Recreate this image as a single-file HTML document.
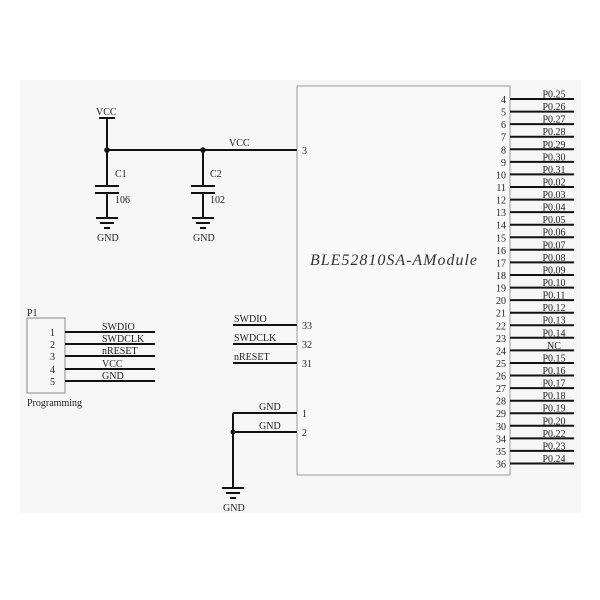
<!DOCTYPE html>
<html><head><meta charset="utf-8"><style>html,body{margin:0;padding:0;background:#fff}svg{display:block}</style></head>
<body>
<svg width="600" height="600" viewBox="0 0 600 600" xmlns="http://www.w3.org/2000/svg" font-family="Liberation Serif, serif" fill="#222">
<rect x="20" y="80" width="561" height="433" fill="#f6f6f6"/>
<rect x="297" y="86" width="213" height="389" fill="#f9f9f9" stroke="#999" stroke-width="1"/>
<text x="310" y="265" font-size="16" font-style="italic" textLength="167" fill="#333">BLE52810SA-AModule</text>
<g stroke="#111" stroke-width="2">
<line x1="510" y1="99" x2="574" y2="99"/><line x1="510" y1="111.6" x2="574" y2="111.6"/><line x1="510" y1="124.1" x2="574" y2="124.1"/><line x1="510" y1="136.7" x2="574" y2="136.7"/><line x1="510" y1="149.3" x2="574" y2="149.3"/><line x1="510" y1="161.9" x2="574" y2="161.9"/><line x1="510" y1="174.4" x2="574" y2="174.4"/><line x1="510" y1="187" x2="574" y2="187"/><line x1="510" y1="199.6" x2="574" y2="199.6"/><line x1="510" y1="212.1" x2="574" y2="212.1"/><line x1="510" y1="224.7" x2="574" y2="224.7"/><line x1="510" y1="237.3" x2="574" y2="237.3"/><line x1="510" y1="249.8" x2="574" y2="249.8"/><line x1="510" y1="262.4" x2="574" y2="262.4"/><line x1="510" y1="275" x2="574" y2="275"/><line x1="510" y1="287.6" x2="574" y2="287.6"/><line x1="510" y1="300.1" x2="574" y2="300.1"/><line x1="510" y1="312.7" x2="574" y2="312.7"/><line x1="510" y1="325.3" x2="574" y2="325.3"/><line x1="510" y1="337.8" x2="574" y2="337.8"/><line x1="510" y1="350.4" x2="574" y2="350.4"/><line x1="510" y1="363" x2="574" y2="363"/><line x1="510" y1="375.5" x2="574" y2="375.5"/><line x1="510" y1="388.1" x2="574" y2="388.1"/><line x1="510" y1="400.7" x2="574" y2="400.7"/><line x1="510" y1="413.2" x2="574" y2="413.2"/><line x1="510" y1="425.8" x2="574" y2="425.8"/><line x1="510" y1="438.4" x2="574" y2="438.4"/><line x1="510" y1="450.9" x2="574" y2="450.9"/><line x1="510" y1="463.5" x2="574" y2="463.5"/>
</g>
<g font-size="10" text-anchor="end">
<text x="506" y="103">4</text><text x="506" y="115.6">5</text><text x="506" y="128.1">6</text><text x="506" y="140.7">7</text><text x="506" y="153.3">8</text><text x="506" y="165.9">9</text><text x="506" y="178.4">10</text><text x="506" y="191">11</text><text x="506" y="203.6">12</text><text x="506" y="216.1">13</text><text x="506" y="228.7">14</text><text x="506" y="241.3">15</text><text x="506" y="253.8">16</text><text x="506" y="266.4">17</text><text x="506" y="279">18</text><text x="506" y="291.6">19</text><text x="506" y="304.1">20</text><text x="506" y="316.7">21</text><text x="506" y="329.3">22</text><text x="506" y="341.8">23</text><text x="506" y="354.4">24</text><text x="506" y="367">25</text><text x="506" y="379.5">26</text><text x="506" y="392.1">27</text><text x="506" y="404.7">28</text><text x="506" y="417.2">29</text><text x="506" y="429.8">30</text><text x="506" y="442.4">34</text><text x="506" y="454.9">35</text><text x="506" y="467.5">36</text>
</g>
<g font-size="10" text-anchor="middle">
<text x="554" y="97.5">P0.25</text><text x="554" y="110">P0.26</text><text x="554" y="122.6">P0.27</text><text x="554" y="135.2">P0.28</text><text x="554" y="147.8">P0.29</text><text x="554" y="160.3">P0.30</text><text x="554" y="172.9">P0.31</text><text x="554" y="185.5">P0.02</text><text x="554" y="198">P0.03</text><text x="554" y="210.6">P0.04</text><text x="554" y="223.2">P0.05</text><text x="554" y="235.7">P0.06</text><text x="554" y="248.3">P0.07</text><text x="554" y="260.9">P0.08</text><text x="554" y="273.5">P0.09</text><text x="554" y="286">P0.10</text><text x="554" y="298.6">P0.11</text><text x="554" y="311.2">P0.12</text><text x="554" y="323.7">P0.13</text><text x="554" y="336.3">P0.14</text><text x="554" y="348.9">NC</text><text x="554" y="361.4">P0.15</text><text x="554" y="374">P0.16</text><text x="554" y="386.6">P0.17</text><text x="554" y="399.1">P0.18</text><text x="554" y="411.7">P0.19</text><text x="554" y="424.3">P0.20</text><text x="554" y="436.8">P0.22</text><text x="554" y="449.4">P0.23</text><text x="554" y="462">P0.24</text>
</g>
<!-- power -->
<g stroke="#111" stroke-width="2" fill="none">
<line x1="99" y1="118" x2="115" y2="118"/>
<line x1="107" y1="118" x2="107" y2="185"/>
<line x1="107" y1="150" x2="297" y2="150"/>
<line x1="203" y1="150" x2="203" y2="185"/>
<line x1="95" y1="186" x2="119" y2="186"/><line x1="95" y1="193" x2="119" y2="193"/>
<line x1="191" y1="186" x2="215" y2="186"/><line x1="191" y1="193" x2="215" y2="193"/>
<line x1="107" y1="193" x2="107" y2="218"/><line x1="203" y1="193" x2="203" y2="218"/>
<line x1="96" y1="218" x2="118" y2="218"/><line x1="100" y1="223" x2="114" y2="223"/><line x1="104" y1="228" x2="110" y2="228"/>
<line x1="192" y1="218" x2="214" y2="218"/><line x1="196" y1="223" x2="210" y2="223"/><line x1="200" y1="228" x2="206" y2="228"/>
</g>
<circle cx="107" cy="150" r="2.8" fill="#111"/><circle cx="203" cy="150" r="2.8" fill="#111"/>
<g font-size="10">
<text x="96" y="115">VCC</text><text x="229" y="146">VCC</text><text x="302" y="154">3</text>
<text x="115" y="177">C1</text><text x="210" y="177">C2</text>
<text x="115" y="203">106</text><text x="210" y="203">102</text>
<text x="97" y="241">GND</text><text x="193" y="241">GND</text>
</g>
<!-- P1 -->
<rect x="27" y="318" width="38" height="75" fill="none" stroke="#888" stroke-width="1"/>
<g stroke="#111" stroke-width="2">
<line x1="65" y1="332" x2="155" y2="332"/><line x1="65" y1="344" x2="155" y2="344"/><line x1="65" y1="356" x2="155" y2="356"/><line x1="65" y1="369" x2="155" y2="369"/><line x1="65" y1="381" x2="155" y2="381"/>
</g>
<g font-size="10">
<text x="27" y="316">P1</text>
<text x="50" y="336">1</text><text x="50" y="348">2</text><text x="50" y="360">3</text><text x="50" y="373">4</text><text x="50" y="385">5</text>
<text x="102" y="330">SWDIO</text><text x="102" y="342">SWDCLK</text><text x="102" y="354">nRESET</text><text x="102" y="367">VCC</text><text x="102" y="379">GND</text>
<text x="27" y="406">Programming</text>
</g>
<!-- swd -->
<g stroke="#111" stroke-width="2" fill="none">
<line x1="233" y1="325" x2="297" y2="325"/><line x1="233" y1="344" x2="297" y2="344"/><line x1="233" y1="363" x2="297" y2="363"/>
<line x1="233" y1="413" x2="297" y2="413"/><line x1="233" y1="432" x2="297" y2="432"/>
<line x1="233" y1="413" x2="233" y2="488"/>
<line x1="222" y1="488" x2="244" y2="488"/><line x1="226" y1="493" x2="240" y2="493"/><line x1="230" y1="498" x2="236" y2="498"/>
</g>
<circle cx="233" cy="432" r="2.5" fill="#111"/>
<g font-size="10">
<text x="234" y="322">SWDIO</text><text x="234" y="341">SWDCLK</text><text x="234" y="360">nRESET</text>
<text x="302" y="329">33</text><text x="302" y="348">32</text><text x="302" y="367">31</text>
<text x="259" y="410">GND</text><text x="259" y="429">GND</text>
<text x="302" y="417">1</text><text x="302" y="436">2</text>
<text x="223" y="511">GND</text>
</g>
</svg>
</body></html>
